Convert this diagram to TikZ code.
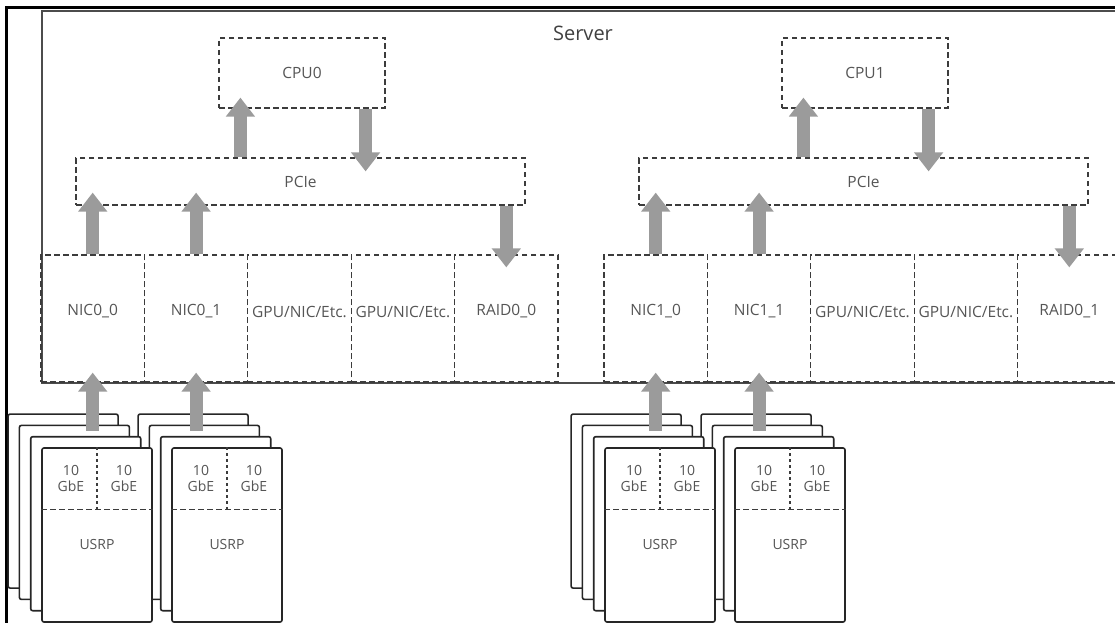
\documentclass[tikz,border=0pt]{standalone}
\usepackage{fontspec}
\setmainfont{Open Sans}
\usetikzlibrary{arrows.meta,positioning}
\definecolor{boxline}{RGB}{60,60,60}
\definecolor{flowgray}{RGB}{155,155,155}
\definecolor{txtgray}{RGB}{85,85,85}
\tikzstyle{part} = [rectangle, draw=boxline, line width=1.2pt, dash pattern=on 5.5pt off 3.5pt, text=txtgray, font=\fontsize{15.5}{18}\selectfont, inner sep=0pt]
\tikzstyle{slot} = [part, minimum width=103.4pt, minimum height=127pt]
\tikzstyle{lbl} = [text=txtgray, font=\fontsize{15.5}{18}\selectfont]
\tikzstyle{small} = [text=txtgray, font=\fontsize{14}{16}\selectfont, align=center]
\tikzstyle{card} = [rectangle, draw=black!85, line width=1.6pt, rounded corners=2pt, fill=white, minimum width=110pt, minimum height=174pt]
\tikzstyle{flow} = [line width=13pt, flowgray, -{Triangle[width=28pt,length=19pt]}]
\newcommand{\gpulab}{GPU/NIC/Etc.}

\begin{document}
\begin{tikzpicture}[x=1pt,y=-1pt]
\useasboundingbox (0,0) rectangle (1115,623);
\clip (0,0) rectangle (1115,623);
% outer frame and server
\draw[line width=3pt] (6,623) -- (6,7.5) -- (1115,7.5);
\node[rectangle, draw=black!70, line width=2.2pt, minimum width=1100pt, minimum height=372pt, anchor=north west] (server) at (41,10) {};
\node[text=black!75, font=\fontsize{20}{24}\selectfont] (srvlbl) at (583,33) {Server};
\foreach \n/\dx in {0/0,1/563}{
	\begin{scope}[xshift=\dx pt]
	\node[part, minimum width=166pt, minimum height=70pt] (cpu\n) at (302,73) {CPU\n};
	\node[part, minimum width=449pt, minimum height=47pt] (pcie\n) at (300.5,181.5) {PCIe};
	\foreach \i/\lab in {0/NIC\n\_0, 1/NIC\n\_1, 2/\gpulab, 3/\gpulab, 4/RAID0\_\n}{
		\node[slot] (slot\n\i) at (92.7+103.4*\i,318.5) {};
		\node[lbl] at ([yshift=7pt]slot\n\i.center) {\lab};
	}
	% USRP stacks, right one behind the left one
	\foreach \k in {1,0}{
		\foreach \j in {3,2,1,0}
			\node[card] (usrp\n\k\j) at (97+130*\k-11.3*\j,535-11.3*\j) {};
		\draw[boxline, line width=1.2pt, dash pattern=on 5.5pt off 3.5pt] ([yshift=-62pt]usrp\n\k0.north west) -- ([yshift=-62pt]usrp\n\k0.north east);
		\draw[boxline, line width=1.2pt, dash pattern=on 2.5pt off 3.5pt] (usrp\n\k0.north) -- ([yshift=-62pt]usrp\n\k0.north);
		\node[small] at ([xshift=-26pt,yshift=-31pt]usrp\n\k0.north) {10\\GbE};
		\node[small] at ([xshift=27pt,yshift=-31pt]usrp\n\k0.north) {10\\GbE};
		\node[small] at ([yshift=-97pt]usrp\n\k0.north) {USRP};
		\draw[flow, shorten <=5pt, shorten >=-10pt] (slot\n\k.south |- usrp\n\k1.north) -- (slot\n\k.south);
	}
	% data paths
	\draw[flow, shorten >=-11pt] ([xshift=22pt]cpu\n.south west |- pcie\n.north) -- ([xshift=22pt]cpu\n.south west);
	\draw[flow, shorten >=-14pt] ([xshift=-20pt]cpu\n.south east) -- ([xshift=-20pt]cpu\n.south east |- pcie\n.north);
	\draw[flow, shorten >=-13pt] (slot\n0.north) -- (slot\n0.north |- pcie\n.south);
	\draw[flow, shorten >=-13pt] (slot\n1.north) -- (slot\n1.north |- pcie\n.south);
	\draw[flow, shorten >=-13pt] (slot\n4.north |- pcie\n.south) -- (slot\n4.north);
	\end{scope}
}
\end{tikzpicture}
\end{document}
